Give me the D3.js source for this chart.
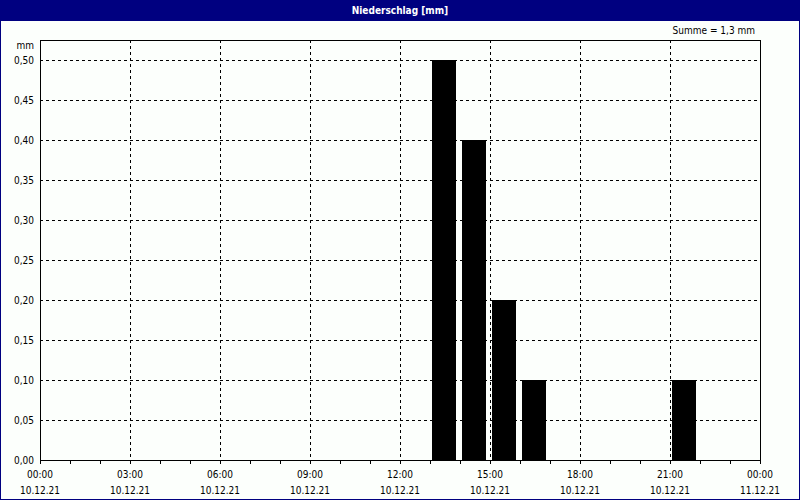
<!DOCTYPE html>
<html><head><meta charset="utf-8">
<script src="https://cdn.jsdelivr.net/npm/d3@7"></script>
<style>
html,body{margin:0;padding:0;background:#fcfffc;}
svg{display:block;}
text{font-family:"DejaVu Sans Condensed","DejaVu Sans",sans-serif;font-stretch:condensed;font-size:10px;fill:#000;}
</style></head>
<body><svg id="c" width="800" height="500"></svg>
<script>
const title = "Niederschlag [mm]";
const sumLabel = "Summe = 1,3 mm";
const unitLabel = "mm";
const hours = [13, 14, 15, 16, 21];
const values = [0.5, 0.4, 0.2, 0.1, 0.1];
const yTicks = [0, 0.05, 0.1, 0.15, 0.2, 0.25, 0.3, 0.35, 0.4, 0.45, 0.5];
const xTickHours = [0, 3, 6, 9, 12, 15, 18, 21, 24];
const xTimeLabels = ["00:00","03:00","06:00","09:00","12:00","15:00","18:00","21:00","00:00"];
const xDateLabels = ["10.12.21","10.12.21","10.12.21","10.12.21","10.12.21","10.12.21","10.12.21","10.12.21","11.12.21"];

const svg = d3.select("#c");
const L = 40, R = 760, T = 40, B = 460;
const x = d3.scaleLinear().domain([0, 24]).range([L, R]);
const y = d3.scaleLinear().domain([0, 0.525]).range([B, T]);

// window frame
svg.append("rect").attr("x",0.5).attr("y",0.5).attr("width",799).attr("height",499)
  .attr("fill","#fcfffc").attr("stroke","#000080").attr("stroke-width",1);
svg.append("rect").attr("x",0).attr("y",0).attr("width",800).attr("height",21).attr("fill","#000080");
svg.append("text").attr("x",400).attr("y",14).attr("text-anchor","middle")
  .style("fill","#fff").style("font-weight","bold").style("font-size","10px").text(title);
svg.append("text").attr("x",755).attr("y",34).attr("text-anchor","end").text(sumLabel);
svg.append("text").attr("x",34).attr("y",49).attr("text-anchor","end").text(unitLabel);

// grid
const g = svg.append("g");
g.selectAll(".hg").data(yTicks.filter(d=>d>0)).enter().append("line")
  .attr("x1",L).attr("x2",R).attr("y1",d=>Math.round(y(d))+0.5).attr("y2",d=>Math.round(y(d))+0.5)
  .attr("stroke","#000").attr("stroke-dasharray","3,3");
g.selectAll(".vg").data(xTickHours.filter(h=>h>0&&h<24)).enter().append("line")
  .attr("x1",d=>x(d)+0.5).attr("x2",d=>x(d)+0.5).attr("y1",T).attr("y2",B)
  .attr("stroke","#000").attr("stroke-dasharray","3,3");

// bars
svg.selectAll(".bar").data(hours.map((h,i)=>({h, v: values[i]}))).enter().append("rect")
  .attr("x", d=>x(d.h)+2).attr("width", d=>x(d.h+1)-x(d.h)-6)
  .attr("y", d=>y(d.v)).attr("height", d=>y(0)-y(d.v)).attr("fill","#000");

// x axis minor ticks
svg.selectAll(".mt").data(d3.range(0,25)).enter().append("line")
  .attr("x1",d=>x(d)+0.5).attr("x2",d=>x(d)+0.5).attr("y1",B).attr("y2",B+4).attr("stroke","#000");

// plot frame
svg.append("rect").attr("x",L+0.5).attr("y",T+0.5).attr("width",R-L).attr("height",B-T)
  .attr("fill","none").attr("stroke","#000");

// y labels
svg.selectAll(".yl").data(yTicks).enter().append("text")
  .attr("x",34).attr("y",d=>y(d)+4).attr("text-anchor","end")
  .text(d=>d3.format(".2f")(d).replace(".",","));

// x labels
svg.selectAll(".xl").data(xTickHours).enter().append("text")
  .attr("x",d=>x(d)).attr("y",478).attr("text-anchor","middle").text((d,i)=>xTimeLabels[i]);
svg.selectAll(".xd").data(xTickHours).enter().append("text")
  .attr("x",d=>x(d)).attr("y",494).attr("text-anchor","middle").text((d,i)=>xDateLabels[i]);
</script></body></html>
